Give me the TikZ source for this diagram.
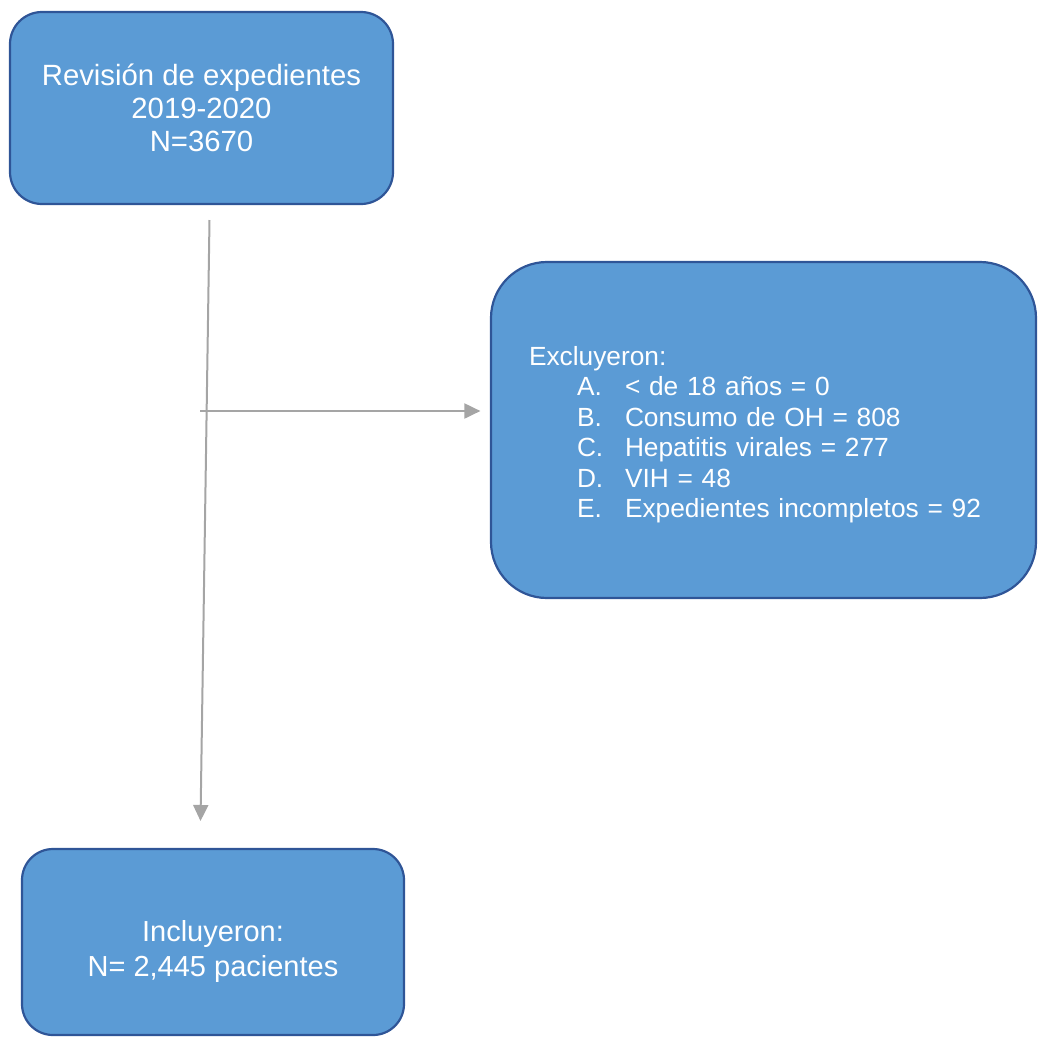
\documentclass[tikz,border=0pt]{standalone}
\usepackage{fontspec}
\setmainfont{Liberation Sans}
\usetikzlibrary{arrows.meta, positioning}
\definecolor{boxblue}{HTML}{5B9BD5}
\definecolor{boxline}{HTML}{2F5597}
\definecolor{arrowgray}{HTML}{A5A5A5}

\begin{document}
\begin{tikzpicture}[x=1pt, y=-1pt,
	bluebox/.style={rectangle, draw=boxline, line width=2.2pt, fill=boxblue, text=white, align=center, inner sep=0pt},
	arrow/.style={-{Triangle[length=16pt, width=15pt]}, line width=2pt, arrowgray},
	every node/.style={align=center}
	]
	\useasboundingbox (0,0) rectangle (1039,1037);
	
	\node[bluebox, rounded corners=32pt, minimum width=383pt, minimum height=192pt, font=\fontsize{29.3}{33}\selectfont] (revision) at (201.5,108) {Revisión de expedientes\\ 2019-2020\\ N=3670};
	\node[bluebox, rounded corners=56pt, align=left, inner xsep=38pt, text width=469pt, minimum height=336pt, font=\fontsize{26.3}{30.5}\selectfont] (excluded) at (763.5,430)
	{\rule{0pt}{28pt}Excluyeron:\\
		\hspace*{48pt}\makebox[48pt][l]{A.}< de 18 años = 0\\
		\hspace*{48pt}\makebox[48pt][l]{B.}Consumo de OH = 808\\
		\hspace*{48pt}\makebox[48pt][l]{C.}Hepatitis virales = 277\\
		\hspace*{48pt}\makebox[48pt][l]{D.}VIH = 48\\
		\hspace*{48pt}\makebox[48pt][l]{E.}Expedientes incompletos = 92};
	\node[bluebox, rounded corners=31pt, minimum width=382pt, minimum height=186pt, font=\fontsize{29}{35}\selectfont] (included) at (213,942) {\rule{0pt}{39pt}Incluyeron:\\ N= 2,445 pacientes};
	
	%connectors
	\coordinate (v-top) at (209.5,220);
	\coordinate (v-end) at (200.5,821);
	\coordinate (split) at (200,411);
	\draw[arrow] (v-top) -- (v-end);
	\draw[arrow, shorten >=9.5pt] (split) -- (split -| excluded.west);
\end{tikzpicture}
\end{document}
